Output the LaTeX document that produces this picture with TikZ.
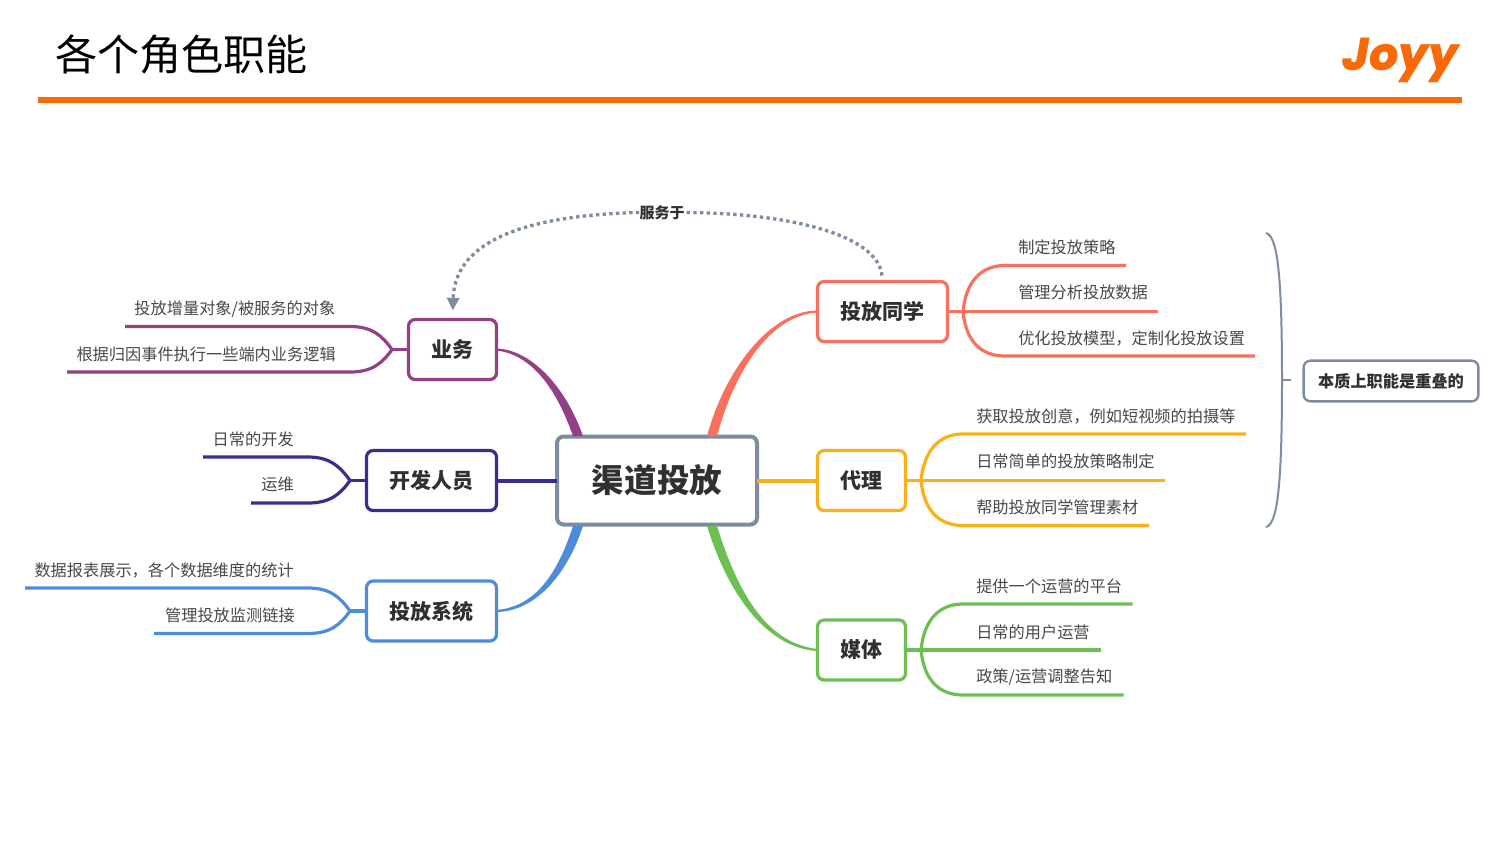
\documentclass[tikz,border=0pt]{standalone}
\usepackage{fontspec}
\setmainfont{Noto Sans CJK SC}
\newfontfamily\logofont{Poppins ExtraBold}[ItalicFont=Poppins ExtraBold Italic]
\usetikzlibrary{arrows.meta}
\usetikzlibrary{calc}
\definecolor{brandline}{HTML}{F96A07}
\definecolor{ownerline}{HTML}{F9705C}
\definecolor{agentline}{HTML}{FBB116}
\definecolor{medialine}{HTML}{6CBF52}
\definecolor{bizline}{HTML}{934086}
\definecolor{devline}{HTML}{3B2C8E}
\definecolor{sysline}{HTML}{4C8CD9}
\definecolor{greyline}{HTML}{7F8BA0}
\definecolor{inktext}{HTML}{303030}
\definecolor{leaftext}{HTML}{484848}
\newcommand{\taper}[6]{\fill[#1] ($(#2)+(0,-1)$) .. controls ($(#3)+(0,{-0.5*abs(#6)})$) and ($(#4)+({-1*(#6)},0)$) .. ($(#5)+({-1*(#6)},0)$) -- ($(#5)+(#6,0)$) .. controls ($(#4)+(#6,0)$) and ($(#3)+(0,{0.5*abs(#6)})$) .. ($(#2)+(0,1)$) -- cycle;}
\begin{document}
\begin{tikzpicture}
	[x=.75pt,y=-.75pt,
	hub/.style={draw=greyline,line width=3pt,rounded corners=5pt,fill=white,text=inktext,font=\fontsize{24.4}{28}\selectfont\bfseries,minimum width=150pt,minimum height=66pt,inner sep=0pt,outer sep=0pt},
	topic/.style={draw=#1,line width=2.4pt,rounded corners=5pt,fill=white,text=inktext,font=\fontsize{15.75}{18}\selectfont\bfseries,minimum height=45pt,inner sep=0pt,outer sep=0pt},
	note/.style={draw=greyline,line width=1.8pt,rounded corners=5pt,text=inktext,font=\fontsize{12.15}{14}\selectfont\bfseries,minimum width=131pt,minimum height=30.5pt,inner sep=0pt,outer sep=0pt},
	leaf/.style={text=leaftext,font=\fontsize{12.15}{14}\selectfont,inner sep=0pt},
	sub/.style={draw=#1,line width=2.4pt},
	dotlink/.style={draw=greyline,line width=2.5pt,dash pattern=on 2.5pt off 2.5pt}]
	\useasboundingbox (0,0) rectangle (1500,844);
	\fill[white] (0,0) rectangle (1500,844);
	\node[anchor=west,font=\fontsize{31.6}{36}\selectfont,inner sep=0pt] (title) at (55,54.5) {各个角色职能};
	\node[anchor=east,text=brandline,font=\logofont\fontsize{34.5}{36}\selectfont\itshape,inner sep=0pt] (logo) at (1459,60.5) {Joyy};
	\coordinate (ruleleft) at (38,100);
	\coordinate (ruleright) at (1462,100);
	\draw[brandline,line width=4.5pt] (ruleleft) -- (ruleright);

	\node[hub] (channel) at (657,480.5) {渠道投放};
	\node[topic=ownerline,minimum width=97.5pt] (owner) at (882.5,311.5) {投放同学};
	\node[topic=agentline,minimum width=66pt] (agent) at (861.5,480.5) {代理};
	\node[topic=medialine,minimum width=66pt] (media) at (861.5,650) {媒体};
	\node[topic=bizline,minimum width=66pt] (biz) at (452.5,349.5) {业务};
	\node[topic=devline,minimum width=97.5pt] (dev) at (431.5,480.5) {开发人员};
	\node[topic=sysline,minimum width=97.5pt] (sys) at (431.5,611) {投放系统};
	\node[note] (overlap) at (1391,381) {本质上职能是重叠的};

	\coordinate (hubnw) at (578,436);
	\coordinate (hubne) at (712,436);
	\coordinate (hubsw) at (578,526);
	\coordinate (hubse) at (712,526);
	\taper{bizline}{biz.east}{530,352}{560,385}{hubnw}{-5}
	\taper{ownerline}{owner.west}{770,313}{730,370}{hubne}{5}
	\taper{sysline}{sys.east}{535,609}{562,575}{hubsw}{5}
	\taper{medialine}{media.west}{770,646}{735,600}{hubse}{-5}
	\draw[devline,line width=3pt] (dev.east) -- (channel.west);
	\draw[agentline,line width=3pt] (channel.east) -- (agent.west);

	\node[leaf,anchor=west] (plan) at (1018,247) {制定投放策略};
	\node[leaf,anchor=west] (data) at (1018,292.5) {管理分析投放数据};
	\node[leaf,anchor=west] (model) at (1018,338) {优化投放模型，定制化投放设置};
	\coordinate (ownerfork) at (963,311.5);
	\coordinate (planend) at (1126,265.5);
	\coordinate (dataend) at (1158,311.5);
	\coordinate (modelend) at (1255,356);
	\draw[sub=ownerline] (owner.east) -- (ownerfork);
	\draw[sub=ownerline] (ownerfork) .. controls +(3,-30) and +(-24,0) .. +(42,-46) -- (planend);
	\draw[sub=ownerline] (ownerfork) -- (dataend);
	\draw[sub=ownerline] (ownerfork) .. controls +(3,30) and +(-24,0) .. +(42,44.5) -- (modelend);

	\node[leaf,anchor=west] (idea) at (976,416) {获取投放创意，例如短视频的拍摄等};
	\node[leaf,anchor=west] (simple) at (976,461.5) {日常简单的投放策略制定};
	\node[leaf,anchor=west] (assets) at (976,507) {帮助投放同学管理素材};
	\coordinate (agentfork) at (921,480.5);
	\coordinate (ideaend) at (1246,434);
	\coordinate (simpleend) at (1165,480.5);
	\coordinate (assetsend) at (1149,525.5);
	\draw[sub=agentline] (agent.east) -- (agentfork);
	\draw[sub=agentline] (agentfork) .. controls +(3,-30) and +(-24,0) .. +(42,-46.5) -- (ideaend);
	\draw[sub=agentline] (agentfork) -- (simpleend);
	\draw[sub=agentline] (agentfork) .. controls +(3,30) and +(-24,0) .. +(42,45) -- (assetsend);

	\node[leaf,anchor=west] (platform) at (976,586) {提供一个运营的平台};
	\node[leaf,anchor=west] (users) at (976,632) {日常的用户运营};
	\node[leaf,anchor=west] (policy) at (976,677.5) {政策/运营调整告知};
	\coordinate (mediafork) at (921,650);
	\coordinate (platformend) at (1132.5,604);
	\coordinate (usersend) at (1100.5,650);
	\coordinate (policyend) at (1123.5,695);
	\draw[sub=medialine] (media.east) -- (mediafork);
	\draw[sub=medialine] (mediafork) .. controls +(3,-30) and +(-24,0) .. +(42,-46) -- (platformend);
	\draw[sub=medialine] (mediafork) -- (usersend);
	\draw[sub=medialine] (mediafork) .. controls +(3,30) and +(-24,0) .. +(42,45) -- (policyend);

	\node[leaf,anchor=east] (target) at (335.5,309.5) {投放增量对象/被服务的对象};
	\node[leaf,anchor=east] (logic) at (336,354.5) {根据归因事件执行一些端内业务逻辑};
	\coordinate (bizfork) at (392,349.5);
	\coordinate (targetend) at (125,326.5);
	\coordinate (logicend) at (67,372);
	\draw[sub=bizline] (biz.west) -- (bizfork);
	\draw[sub=bizline] (bizfork) .. controls +(-10,-14) and +(22,0) .. +(-42,-23) -- (targetend);
	\draw[sub=bizline] (bizfork) .. controls +(-10,14) and +(22,0) .. +(-42,22.5) -- (logicend);

	\node[leaf,anchor=east] (daily) at (294,439) {日常的开发};
	\node[leaf,anchor=east] (ops) at (294,484.5) {运维};
	\coordinate (devfork) at (350,480.5);
	\coordinate (dailyend) at (203,457);
	\coordinate (opsend) at (251,503);
	\draw[sub=devline] (dev.west) -- (devfork);
	\draw[sub=devline] (devfork) .. controls +(-10,-14) and +(22,0) .. +(-42,-23.5) -- (dailyend);
	\draw[sub=devline] (devfork) .. controls +(-10,14) and +(22,0) .. +(-42,22.5) -- (opsend);

	\node[leaf,anchor=east] (report) at (294,570) {数据报表展示，各个数据维度的统计};
	\node[leaf,anchor=east] (monitor) at (295,615.5) {管理投放监测链接};
	\coordinate (sysfork) at (350,611);
	\coordinate (reportend) at (25,588);
	\coordinate (monitorend) at (154,633.5);
	\draw[sub=sysline] (sys.west) -- (sysfork);
	\draw[sub=sysline] (sysfork) .. controls +(-10,-14) and +(22,0) .. +(-42,-23) -- (reportend);
	\draw[sub=sysline] (sysfork) .. controls +(-10,14) and +(22,0) .. +(-42,22.5) -- (monitorend);

	\node[text=inktext,font=\fontsize{11.25}{13}\selectfont\bfseries,inner sep=0pt] (serve) at (662,212.5) {服务于};
	\draw[dotlink,shorten <=4.5pt] (owner.north) .. controls (878,235) and (790,213) .. (serve.east);
	\draw[dotlink,shorten >=6.75pt,-{Triangle[length=9.5pt,width=9pt,fill=greyline,sep=0pt]}] (serve.west) .. controls (540,215) and (455,235) .. (biz.north);

	\coordinate (bracetop) at (1266,233);
	\coordinate (bracebot) at (1266,527);
	\coordinate (bracemid) at (1282,380);
	\coordinate (bracetip) at (1291,380);
	\draw[greyline,line width=1.5pt] (bracetop) .. controls (1277,236) and (1282,270) .. (bracemid) .. controls (1282,490) and (1277,524) .. (bracebot);
	\draw[greyline,line width=1.5pt] (bracemid) -- (bracetip);
\end{tikzpicture}
\end{document}
